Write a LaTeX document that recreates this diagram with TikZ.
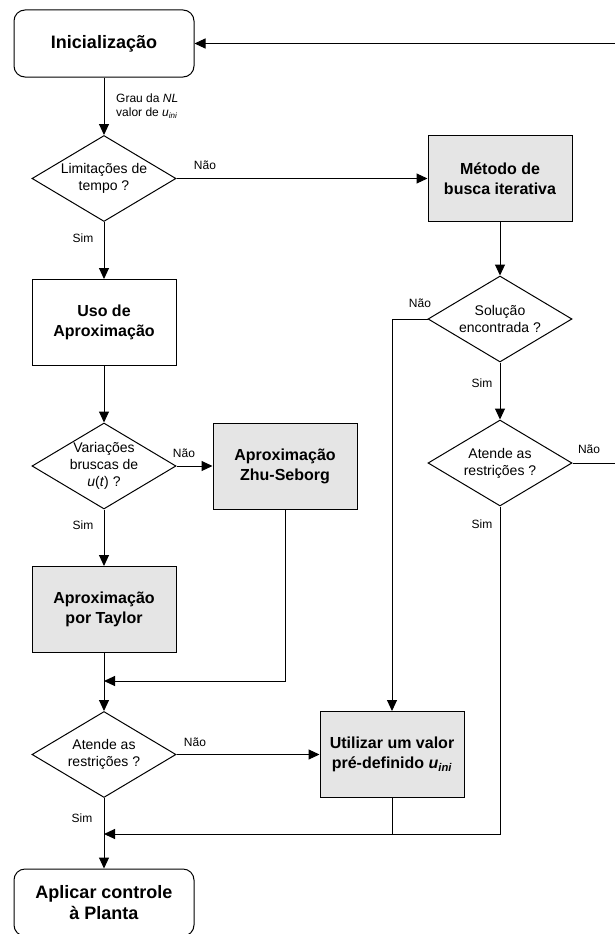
\documentclass[tikz,border=0pt]{standalone}
\usepackage{fontspec}
\setmainfont{Liberation Sans}
\usetikzlibrary{shapes.geometric,arrows.meta}
\begin{document}
\begin{tikzpicture}[x=1pt,y=-1pt,
  line/.style={draw=black, line width=1pt},
  arr/.style={line, -{Triangle[length=11pt,width=10pt]}},
  term/.style={draw, line width=1pt, rounded corners=11pt, minimum width=180pt, minimum height=67pt, inner sep=0pt, align=center, font=\fontsize{18pt}{21pt}\selectfont\bfseries},
  proc/.style={draw, line width=1pt, minimum width=144pt, minimum height=86pt, inner sep=0pt, align=center, font=\fontsize{16pt}{20pt}\selectfont\bfseries},
  procg/.style={proc, fill=black!10},
  dec/.style={diamond, draw, line width=1pt, minimum width=144pt, minimum height=86pt, inner sep=0pt},
  dtext/.style={align=center, font=\fontsize{14pt}{17pt}\selectfont, inner sep=0pt},
  lbl/.style={font=\fontsize{12pt}{14pt}\selectfont, inner sep=0pt, align=left}
]
\useasboundingbox (0,0) rectangle (614,934);

% nodes
\node[term] (ini) at (104,43.5) {Inicialização};
\node[dec] (d1) at (104,178.5) {};
\node[dtext] (d1t) at (d1) {Limitações de\\tempo ?};
\node[procg] (met) at (500,178.5) {Método de\\busca iterativa};
\node[proc] (uso) at (104,322.5) {Uso de\\Aproximação};
\node[dec] (d2) at (500,319) {};
\node[dtext] (d2t) at (d2) {Solução\\encontrada ?};
\node[dec] (d3) at (500,463) {};
\node[dtext] (d3t) at (d3) {Atende as\\restrições ?};
\node[dec] (d4) at (104,466) {};
\node[dtext] (d4t) at (d4) {Variações\\bruscas de\\\textit{u}(\textit{t}) ?};
\node[procg] (zhu) at (285,466) {Aproximação\\Zhu-Seborg};
\node[procg] (tay) at (104,609.5) {Aproximação\\por Taylor};
\node[dec] (d5) at (104,754.5) {};
\node[dtext] (d5t) at (d5) {Atende as\\restrições ?};
\node[procg] (uti) at (392,754.5) {Utilizar um valor\\pré-definido \textit{u}\textsubscript{\textit{ini}}};
\node[term] (apl) at (104,902.5) {Aplicar controle\\à Planta};

% labels
\node[lbl, anchor=west] (lg) at (116,106) {Grau da \textit{NL}\\valor de \textit{u}\textsubscript{\textit{ini}}};
\node[lbl] (l1) at (205,165) {Não};
\node[lbl] (l2) at (83,238) {Sim};
\node[lbl] (l3) at (420,303) {Não};
\node[lbl] (l4) at (482,383) {Sim};
\node[lbl] (l5) at (589,449) {Não};
\node[lbl] (l6) at (482,524) {Sim};
\node[lbl] (l7) at (184,453) {Não};
\node[lbl] (l8) at (83,525) {Sim};
\node[lbl] (l9) at (195,742) {Não};
\node[lbl] (l10) at (82,818) {Sim};

% helper coordinates
\coordinate (r1) at (620,463);
\coordinate (r2) at (620,43.5);
\coordinate (m1) at (104,681);
\coordinate (m2) at (104,834);

% connectors
\draw[arr] (ini.south) -- (d1.north);
\draw[arr] (d1.east) -- (met.west);
\draw[arr] (d1.south) -- (uso.north);
\draw[arr] (met.south) -- (d2.north);
\draw[arr] (d2.south) -- (d3.north);
\draw[arr] (d2.west) -| (uti.north);
\draw[arr] (d3.east) -- (r1) -- (r2) -- (ini.east);
\draw[arr] (uso.south) -- (d4.north);
\draw[arr] (d4.east) -- (zhu.west);
\draw[arr] (d4.south) -- (tay.north);
\draw[arr] (zhu.south) |- (m1);
\draw[arr] (tay.south) -- (d5.north);
\draw[arr] (d5.east) -- (uti.west);
\draw[arr] (d3.south) |- (m2);
\draw[line] (uti.south) -- (uti.south |- m2);
\draw[arr] (d5.south) -- (apl.north);
\end{tikzpicture}
\end{document}
